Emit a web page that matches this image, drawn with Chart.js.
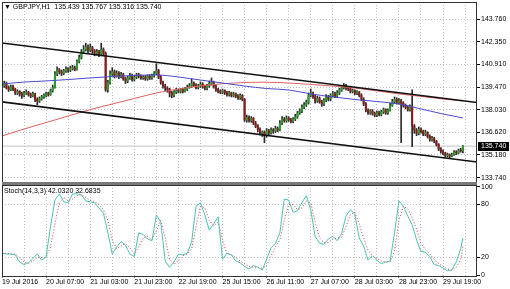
<!DOCTYPE html>
<html>
<head>
<meta charset="utf-8">
<script src="https://cdn.jsdelivr.net/npm/chart.js@4.4.1/dist/chart.umd.min.js"></script>
<style>
    html, body { margin: 0; padding: 0; background: #fff; }
    #wrap { position: relative; width: 510px; height: 289px; overflow: hidden; font-family: "Liberation Sans", Arial, sans-serif; }
    canvas { position: absolute; left: 0; }
    #main { top: 0; }
    #osc { top: 183px; }
    .lbl { position: absolute; font-size: 7px; line-height: 8px; color: #000; white-space: nowrap; }
    #sep { position: absolute; left: 2px; top: 182px; width: 475px; height: 3px; background: #7a7a7a; }
</style>
</head>
<body>
<div id="wrap">
    <canvas id="main" width="510" height="183"></canvas>
    <canvas id="osc" width="510" height="106"></canvas>
    <div id="sep"></div>
    <div class="lbl" style="left:4px;top:3px">▼ GBPJPY,H1&nbsp; 135.439 135.767 135.316 135.740</div>
    <div class="lbl" style="left:4px;top:187px">Stoch(14,3,3) 42.0320 32.6835</div>
</div>
<script>
// ---- data (GBPJPY H1, one entry per bar) ----
const opens = [
    139.40, 139.55, 139.70, 139.45, 139.30, 139.50, 139.35, 139.10, 139.20, 139.05,
    138.95, 139.10, 139.15, 139.00, 138.90, 139.05, 138.70, 138.60, 138.75, 138.85,
    138.95, 139.05, 139.00, 139.25, 139.45, 140.30, 140.55, 140.45, 140.35, 140.50,
    140.60, 140.55, 140.65, 140.70, 140.60, 141.10, 141.35, 141.70, 141.85, 142.00,
    141.80, 141.95, 141.75, 141.60, 141.70, 141.55, 141.85, 141.60, 139.30, 139.75,
    140.30, 140.45, 140.20, 140.35, 140.15, 140.25, 140.00, 139.85, 140.05, 140.20,
    139.95, 140.10, 140.25, 140.15, 140.05, 140.10, 140.00, 140.15, 140.05, 140.20,
    140.35, 140.50, 140.10, 139.75, 139.55, 139.40, 139.30, 139.10, 138.95, 139.15,
    139.25, 139.20, 139.30, 139.20, 139.35, 139.45, 139.55, 139.70, 139.60, 139.45,
    139.55, 139.65, 139.50, 139.40, 139.55, 139.70, 139.80, 139.50, 139.30, 139.20,
    139.15, 139.25, 139.10, 139.00, 139.10, 138.95, 139.05, 138.90, 138.80, 138.95,
    138.70, 137.40, 137.55, 137.35, 137.50, 137.20, 137.00, 136.80, 136.55, 136.60,
    136.40, 136.70, 136.60, 136.75, 136.70, 136.85, 136.75, 137.20, 137.45, 137.35,
    137.50, 137.40, 137.30, 137.45, 137.60, 137.85, 137.95, 138.20, 138.35, 138.50,
    138.95, 139.10, 138.85, 138.60, 138.75, 138.55, 138.40, 138.65, 138.85, 138.70,
    138.95, 139.05, 138.90, 139.10, 139.30, 139.45, 139.55, 139.40, 139.35, 139.20,
    139.25, 139.10, 139.15, 138.95, 138.70, 138.40, 138.00, 137.85, 137.95, 137.80,
    137.70, 137.85, 137.75, 137.90, 138.05, 137.85, 138.00, 138.30, 138.55, 138.70,
    138.50, 138.60, 138.45, 138.30, 138.20, 138.05, 138.25, 137.00, 136.75, 136.55,
    136.80, 136.65, 136.50, 136.60, 136.35, 136.15, 136.25, 136.05, 135.85, 135.55,
    135.40, 135.30, 135.15, 135.20, 135.10, 135.20, 135.35, 135.30, 135.45, 135.439
];
const highs = [
    139.75, 139.85, 139.80, 139.55, 139.60, 139.60, 139.40, 139.30, 139.25, 139.15,
    139.20, 139.30, 139.20, 139.10, 139.15, 139.10, 138.80, 138.85, 138.95, 139.05,
    139.15, 139.15, 139.35, 139.60, 140.45, 140.75, 140.65, 140.55, 140.60, 140.75,
    140.70, 140.80, 140.85, 140.80, 141.20, 141.50, 141.85, 142.10, 142.25, 142.15,
    142.20, 142.05, 141.85, 141.85, 141.80, 142.25, 141.95, 141.70, 139.90, 140.50,
    140.70, 140.55, 140.50, 140.45, 140.40, 140.35, 140.10, 140.15, 140.35, 140.30,
    140.20, 140.35, 140.35, 140.25, 140.20, 140.20, 140.25, 140.25, 140.30, 140.45,
    140.95, 140.60, 140.20, 139.85, 139.65, 139.50, 139.40, 139.20, 139.25, 139.40,
    139.35, 139.40, 139.40, 139.45, 139.60, 139.70, 140.00, 139.80, 139.70, 139.65,
    139.80, 139.75, 139.60, 139.65, 139.85, 140.05, 139.85, 139.60, 139.40, 139.30,
    139.35, 139.30, 139.20, 139.20, 139.15, 139.15, 139.10, 139.00, 139.05, 139.00,
    138.75, 137.70, 137.65, 137.60, 137.55, 137.30, 137.10, 136.90, 136.70, 136.70,
    136.85, 136.80, 136.90, 136.85, 137.00, 136.95, 137.35, 137.60, 137.55, 137.65,
    137.60, 137.50, 137.55, 137.75, 137.95, 138.10, 138.35, 138.50, 138.65, 139.10,
    139.35, 139.15, 138.95, 138.90, 138.85, 138.65, 138.75, 139.00, 138.95, 139.05,
    139.20, 139.15, 139.25, 139.40, 139.55, 139.70, 139.65, 139.50, 139.45, 139.35,
    139.30, 139.25, 139.20, 139.05, 138.80, 138.50, 138.10, 138.05, 138.05, 137.90,
    137.95, 137.95, 138.00, 138.15, 138.10, 138.10, 138.45, 138.70, 138.85, 138.80,
    138.75, 138.70, 138.55, 138.40, 138.30, 138.35, 139.30, 137.10, 136.85, 136.95,
    136.90, 136.75, 136.75, 136.65, 136.45, 136.35, 136.30, 136.10, 135.90, 135.65,
    135.50, 135.35, 135.30, 135.25, 135.30, 135.45, 135.45, 135.55, 135.60, 135.767
];
const lows = [
    139.30, 139.45, 139.35, 139.20, 139.25, 139.25, 139.00, 139.00, 138.90, 138.75,
    138.85, 139.00, 138.90, 138.80, 138.85, 138.55, 138.35, 138.50, 138.65, 138.75,
    138.85, 138.90, 138.95, 139.15, 139.40, 140.20, 140.30, 140.20, 140.25, 140.40,
    140.40, 140.45, 140.55, 140.50, 140.55, 141.00, 141.25, 141.60, 141.75, 141.65,
    141.70, 141.60, 141.45, 141.50, 141.40, 141.45, 141.45, 139.20, 139.15, 139.65,
    140.20, 140.05, 140.10, 140.00, 140.05, 139.90, 139.70, 139.75, 139.95, 139.85,
    139.85, 140.00, 140.05, 139.95, 139.95, 139.90, 139.90, 139.95, 139.95, 140.10,
    140.25, 140.00, 139.65, 139.40, 139.25, 139.15, 138.85, 138.80, 138.85, 139.05,
    139.10, 139.10, 139.10, 139.15, 139.25, 139.40, 139.45, 139.50, 139.35, 139.35,
    139.45, 139.40, 139.30, 139.30, 139.45, 139.60, 139.40, 139.20, 139.10, 139.05,
    139.05, 139.00, 138.90, 138.90, 138.85, 138.85, 138.80, 138.70, 138.70, 138.60,
    137.30, 137.25, 137.25, 137.25, 137.10, 136.90, 136.65, 136.45, 136.35, 135.95,
    136.30, 136.45, 136.50, 136.55, 136.60, 136.65, 136.70, 137.10, 137.25, 137.25,
    137.30, 137.20, 137.20, 137.35, 137.50, 137.75, 137.85, 138.10, 138.25, 138.40,
    138.85, 138.75, 138.45, 138.50, 138.45, 138.25, 138.30, 138.55, 138.60, 138.60,
    138.85, 138.80, 138.80, 139.00, 139.20, 139.35, 139.30, 139.25, 139.10, 139.10,
    139.00, 139.00, 138.85, 138.60, 138.30, 137.90, 137.75, 137.75, 137.70, 137.60,
    137.60, 137.65, 137.65, 137.80, 137.75, 137.75, 137.95, 138.25, 138.45, 138.40,
    138.40, 135.95, 138.20, 138.10, 137.95, 137.95, 135.70, 136.55, 136.40, 136.45,
    136.55, 136.40, 136.40, 136.25, 136.05, 136.05, 135.95, 135.75, 135.45, 135.30,
    135.20, 135.05, 135.05, 135.00, 135.05, 135.15, 135.20, 135.25, 135.35, 135.316
];
const closes = [
    139.55, 139.70, 139.45, 139.30, 139.50, 139.35, 139.10, 139.20, 139.05, 138.95,
    139.10, 139.15, 139.00, 138.90, 139.05, 138.70, 138.60, 138.75, 138.85, 138.95,
    139.05, 139.00, 139.25, 139.45, 140.30, 140.55, 140.45, 140.35, 140.50, 140.60,
    140.55, 140.65, 140.70, 140.60, 141.10, 141.35, 141.70, 141.85, 142.00, 141.80,
    141.95, 141.75, 141.60, 141.70, 141.55, 141.85, 141.60, 139.30, 139.75, 140.30,
    140.45, 140.20, 140.35, 140.15, 140.25, 140.00, 139.85, 140.05, 140.20, 139.95,
    140.10, 140.25, 140.15, 140.05, 140.10, 140.00, 140.15, 140.05, 140.20, 140.35,
    140.50, 140.10, 139.75, 139.55, 139.40, 139.30, 139.10, 138.95, 139.15, 139.25,
    139.20, 139.30, 139.20, 139.35, 139.45, 139.55, 139.70, 139.60, 139.45, 139.55,
    139.65, 139.50, 139.40, 139.55, 139.70, 139.80, 139.50, 139.30, 139.20, 139.15,
    139.25, 139.10, 139.00, 139.10, 138.95, 139.05, 138.90, 138.80, 138.95, 138.70,
    137.40, 137.55, 137.35, 137.50, 137.20, 137.00, 136.80, 136.55, 136.60, 136.40,
    136.70, 136.60, 136.75, 136.70, 136.85, 136.75, 137.20, 137.45, 137.35, 137.50,
    137.40, 137.30, 137.45, 137.60, 137.85, 137.95, 138.20, 138.35, 138.50, 138.95,
    139.10, 138.85, 138.60, 138.75, 138.55, 138.40, 138.65, 138.85, 138.70, 138.95,
    139.05, 138.90, 139.10, 139.30, 139.45, 139.55, 139.40, 139.35, 139.20, 139.25,
    139.10, 139.15, 138.95, 138.70, 138.40, 138.00, 137.85, 137.95, 137.80, 137.70,
    137.85, 137.75, 137.90, 138.05, 137.85, 138.00, 138.30, 138.55, 138.70, 138.50,
    138.60, 138.45, 138.30, 138.20, 138.05, 138.25, 137.00, 136.75, 136.55, 136.80,
    136.65, 136.50, 136.60, 136.35, 136.15, 136.25, 136.05, 135.85, 135.55, 135.40,
    135.30, 135.15, 135.20, 135.10, 135.20, 135.35, 135.30, 135.45, 135.44, 135.740
];

// moving averages, read every 10 bars
const maBars = [0, 10, 20, 30, 40, 50, 60, 70, 80, 90, 100, 110, 120, 130, 140, 150, 160, 170, 180, 190, 200, 209];
const maBlue = [139.67, 139.79, 139.86, 139.95, 140.05, 140.14, 140.21, 140.24, 140.11, 139.92, 139.73,
                139.54, 139.38, 139.29, 139.04, 138.85, 138.69, 138.56, 138.40, 138.09, 137.77, 137.52];
const maRed = [136.38, 136.82, 137.23, 137.64, 138.05, 138.40, 138.75, 139.10, 139.35, 139.55, 139.68,
               139.76, 139.78, 139.73, 139.64, 139.54, 139.41, 139.23, 139.04, 138.88, 138.72, 138.59];

// channel trend lines (price at left and right edge of the window)
const channelTop = [142.26, 138.50];
const channelBottom = [138.54, 134.73];

// stochastic (14,3,3), one reading every 2 bars, last one is the final bar
const stochK = [
    25, 24, 24, 23, 15, 12, 14, 19, 24, 17, 21, 55, 85, 92, 83, 82, 92, 92, 91, 84,
    83, 82, 76, 70, 48, 24, 32, 38, 34, 24, 21, 48, 46, 41, 39, 68, 60, 16, 9, 15,
    24, 23, 25, 38, 78, 82, 68, 51, 58, 66, 18, 25, 23, 16, 14, 10, 7, 11, 9, 6,
    18, 31, 36, 48, 86, 85, 71, 73, 82, 90, 74, 44, 36, 35, 41, 44, 39, 47, 67, 74,
    69, 42, 33, 17, 22, 17, 13, 15, 16, 48, 84, 78, 67, 57, 40, 27, 26, 21, 12, 11,
    8, 5, 6, 15, 30, 42.03
];
const stochD = [
    24, 25, 24, 24, 20, 15, 13, 16, 20, 20, 20, 32, 58, 82, 88, 84, 86, 90, 91, 88,
    85, 83, 80, 74, 62, 40, 30, 33, 36, 31, 24, 32, 42, 44, 40, 50, 62, 42, 18, 12,
    17, 22, 24, 30, 55, 78, 76, 62, 56, 60, 40, 24, 23, 20, 16, 13, 10, 9, 9, 8,
    11, 22, 32, 40, 62, 80, 80, 74, 76, 84, 82, 60, 42, 37, 37, 41, 42, 43, 55, 69,
    71, 58, 42, 28, 22, 19, 16, 15, 15, 28, 62, 78, 75, 65, 52, 36, 29, 24, 18, 13,
    10, 7, 6, 9, 18, 32.68
];

// axis labels
const priceTicks = [143.760, 142.350, 140.910, 139.470, 138.030, 136.620, 135.180, 133.740];
const stochTicks = [0, 20, 80, 100];
const timeTickBars = [0, 20, 40, 60, 80, 100, 120, 140, 160, 180, 200];
const timeLabels = ['19 Jul 2016', '20 Jul 07:00', '21 Jul 03:00', '21 Jul 23:00', '22 Jul 19:00',
                    '25 Jul 15:00', '26 Jul 11:00', '27 Jul 07:00', '28 Jul 03:00', '28 Jul 23:00', '29 Jul 19:00'];

// ---- style ----
const colors = {
    bull: '#2f9a2f',
    bear: '#8a1c1c',
    wick: '#2a2a2a',
    blueMa: '#4a4ad0',
    redMa: '#e06262',
    channel: '#111111',
    grid: '#bdbdbd',
    bid: '#c4c4c4',
    stochK: '#4cc2b6',
    stochD: '#e03a3a',
    frame: '#333333'
};
const X_MIN = 0, X_MAX = 215.4;
const gridBars = [];
for (let b = 0; b <= 210; b += 10) gridBars.push(b);
const font = { family: '"Liberation Sans", Arial, sans-serif', size: 7 };

const framePlugin = {
    id: 'frame',
    afterDraw(chart) {
        const { ctx, chartArea: a } = chart;
        ctx.save();
        ctx.strokeStyle = colors.frame;
        ctx.lineWidth = 1;
        ctx.strokeRect(Math.round(a.left) + 0.5, Math.round(a.top) + 0.5,
                       Math.round(a.right - a.left) - 1, Math.round(a.bottom - a.top));
        ctx.restore();
    }
};

const priceTagPlugin = {
    id: 'priceTag',
    afterDraw(chart) {
        const { ctx, chartArea: a } = chart;
        const last = closes[closes.length - 1];
        const y = Math.round(chart.scales.y.getPixelForValue(last));
        ctx.save();
        ctx.fillStyle = '#000';
        ctx.fillRect(a.right + 1, y - 4, 31, 9);
        ctx.fillStyle = '#fff';
        ctx.font = '7px "Liberation Sans", Arial, sans-serif';
        ctx.textBaseline = 'middle';
        ctx.fillText(last.toFixed(3), a.right + 4, y + 0.5);
        ctx.restore();
    }
};

function xGrid(showLabels) {
    return {
        type: 'linear',
        offset: false,
        min: X_MIN,
        max: X_MAX,
        afterBuildTicks: s => { s.ticks = gridBars.map(v => ({ value: v })); },
        afterFit: s => { s.height = showLabels ? 13.5 : 0; s.paddingLeft = 0; s.paddingRight = 0; },
        ticks: {
            display: showLabels,
            autoSkip: false,
            maxRotation: 0,
            align: 'start',
            padding: 0,
            color: '#000',
            font: font,
            callback: v => {
                const k = timeTickBars.indexOf(v);
                return k >= 0 ? timeLabels[k] : '';
            }
        },
        grid: {
            offset: false,
            color: colors.grid,
            lineWidth: 1,
            drawTicks: showLabels,
            tickLength: 2,
            tickColor: ctx => (timeTickBars.indexOf(ctx.tick && ctx.tick.value) >= 0 ? '#000' : 'rgba(0,0,0,0)'),
            tickBorderDash: []
        },
        border: { display: false, dash: [1, 2] }
    };
}

function createPriceChart() {
    const wickData = lows.map((l, i) => ({ x: i, y: [l, highs[i]] }));
    const bodyData = opens.map((o, i) => ({ x: i, y: [o, closes[i]] }));
    const maPoints = arr => arr.map((v, k) => ({ x: maBars[k], y: v }));
    const lastClose = closes[closes.length - 1];

    return new Chart(document.getElementById('main'), {
        type: 'bar',
        data: {
            datasets: [
                {
                    type: 'line', label: 'Channel top',
                    data: [{ x: X_MIN, y: channelTop[0] }, { x: X_MAX, y: channelTop[1] }],
                    borderColor: colors.channel, borderWidth: 1.6, pointRadius: 0
                },
                {
                    type: 'line', label: 'Channel bottom',
                    data: [{ x: X_MIN, y: channelBottom[0] }, { x: X_MAX, y: channelBottom[1] }],
                    borderColor: colors.channel, borderWidth: 1.6, pointRadius: 0
                },
                {
                    type: 'line', label: 'MA fast',
                    data: maPoints(maBlue),
                    borderColor: colors.blueMa, borderWidth: 1, pointRadius: 0,
                    cubicInterpolationMode: 'monotone'
                },
                {
                    type: 'line', label: 'MA slow',
                    data: maPoints(maRed),
                    borderColor: colors.redMa, borderWidth: 1, pointRadius: 0,
                    cubicInterpolationMode: 'monotone'
                },
                {
                    type: 'bar', label: 'Bodies',
                    data: bodyData,
                    grouped: false,
                    barThickness: 1.4,
                    minBarLength: 1,
                    borderSkipped: false,
                    backgroundColor: ctx => (closes[ctx.dataIndex] >= opens[ctx.dataIndex] ? colors.bull : colors.bear)
                },
                {
                    type: 'bar', label: 'Wicks',
                    data: wickData,
                    grouped: false,
                    barThickness: 1,
                    backgroundColor: colors.wick
                },
                {
                    type: 'line', label: 'Bid',
                    data: [{ x: X_MIN, y: lastClose }, { x: X_MAX, y: lastClose }],
                    borderColor: colors.bid, borderWidth: 1, pointRadius: 0
                }
            ]
        },
        options: {
            responsive: false,
            animation: false,
            devicePixelRatio: 1,
            layout: { padding: { left: 2, top: 2, right: 0, bottom: 1 } },
            plugins: { legend: { display: false }, tooltip: { enabled: false } },
            scales: {
                x: xGrid(false),
                y: {
                    position: 'right',
                    min: 133.469,
                    max: 144.854,
                    afterBuildTicks: s => { s.ticks = priceTicks.map(v => ({ value: v })); },
                    afterFit: s => { s.width = 33; s.paddingTop = 0; s.paddingBottom = 0; },
                    ticks: { color: '#000', font: font, padding: 1, callback: v => v.toFixed(3) },
                    grid: { color: colors.grid, tickLength: 3, tickColor: '#000', tickBorderDash: [] },
                    border: { display: false, dash: [1, 2] }
                }
            }
        },
        plugins: [framePlugin, priceTagPlugin]
    });
}

function createStochChart() {
    const barOf = k => Math.min(k * 2, closes.length - 1);
    return new Chart(document.getElementById('osc'), {
        type: 'line',
        data: {
            datasets: [
                {
                    label: '%K',
                    data: stochK.map((v, k) => ({ x: barOf(k), y: v })),
                    borderColor: colors.stochK, borderWidth: 1, pointRadius: 0
                },
                {
                    label: '%D',
                    data: stochD.map((v, k) => ({ x: barOf(k), y: v })),
                    borderColor: colors.stochD, borderWidth: 1, borderDash: [1, 2], pointRadius: 0
                }
            ]
        },
        options: {
            responsive: false,
            animation: false,
            devicePixelRatio: 1,
            layout: { padding: { left: 2, top: 2, right: 0, bottom: 0 } },
            plugins: { legend: { display: false }, tooltip: { enabled: false } },
            scales: {
                x: xGrid(true),
                y: {
                    position: 'right',
                    min: -0.3,
                    max: 102,
                    afterBuildTicks: s => { s.ticks = stochTicks.map(v => ({ value: v })); },
                    afterFit: s => { s.width = 33; s.paddingTop = 0; s.paddingBottom = 0; },
                    ticks: { color: '#000', font: font, padding: 1 },
                    grid: {
                        color: ctx => (ctx.tick && (ctx.tick.value === 20 || ctx.tick.value === 80) ? colors.grid : 'rgba(0,0,0,0)'),
                        tickLength: 3, tickColor: '#000', tickBorderDash: []
                    },
                    border: { display: false, dash: [1, 2] }
                }
            }
        },
        plugins: [framePlugin]
    });
}

createPriceChart();
createStochChart();
</script>
</body>
</html>
